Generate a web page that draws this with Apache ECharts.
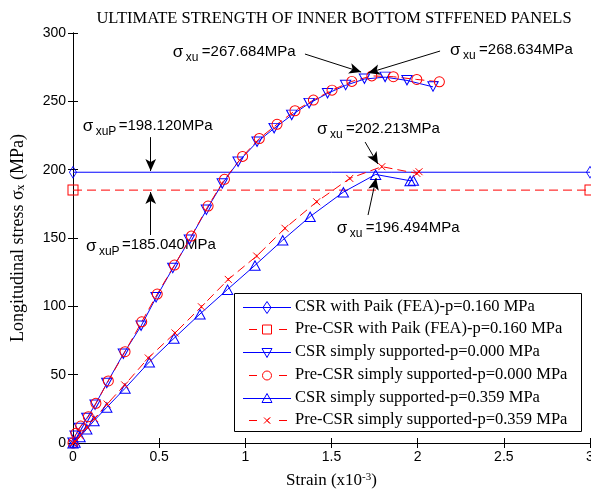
<!DOCTYPE html>
<html>
<head>
<meta charset="utf-8">
<script src="https://cdn.jsdelivr.net/npm/echarts@6/dist/echarts.min.js"></script>
<style>
    html, body { margin: 0; padding: 0; background: #fff; }
    #chart { width: 591px; height: 493px; }
</style>
</head>
<body>
<div id="chart"></div>
<script>
// series names (legend order)
var names = [
    'CSR with Paik (FEA)-p=0.160 MPa',
    'Pre-CSR with Paik (FEA)-p=0.160 MPa',
    'CSR simply supported-p=0.000 MPa',
    'Pre-CSR simply supported-p=0.000 MPa',
    'CSR simply supported-p=0.359 MPa',
    'Pre-CSR simply supported-p=0.359 MPa'
];

// Paik (FEA) ultimate strength, horizontal reference lines
var paikStrain = [0, 3];
var csrPaik = [198.12, 198.12];
var preCsrPaik = [185.04, 185.04];

// simply supported, p = 0.000 MPa
var csrP0Strain = [0, 0.012, 0.037, 0.080, 0.128, 0.196, 0.292, 0.395, 0.482, 0.579, 0.675, 0.774, 0.866, 0.958, 1.068, 1.167, 1.269, 1.370, 1.477, 1.582, 1.691, 1.811, 1.938, 2.089];
var csrP0Stress = [0, 5.1, 10.8, 18.1, 27.8, 43.7, 65.1, 85.6, 106.4, 127.8, 148.5, 170.4, 189.7, 205.6, 220.2, 230.2, 239.9, 248.5, 255.8, 261.7, 266.3, 267.7, 265.3, 260.6];
var preP0Strain = [0, 0.017, 0.045, 0.089, 0.133, 0.205, 0.302, 0.399, 0.489, 0.589, 0.687, 0.784, 0.879, 0.984, 1.081, 1.184, 1.288, 1.395, 1.503, 1.618, 1.734, 1.859, 1.995, 2.126];
var preP0Stress = [0, 7.1, 12.4, 19.2, 29.0, 45.4, 66.8, 88.7, 109.0, 130.2, 151.4, 173.4, 192.9, 209.7, 222.8, 233.2, 243.1, 250.9, 258.2, 264.6, 268.6, 268.0, 266.0, 264.3];

// simply supported, p = 0.359 MPa
var csrP359Strain = [0, 0.012, 0.041, 0.080, 0.122, 0.196, 0.302, 0.443, 0.586, 0.737, 0.897, 1.056, 1.217, 1.376, 1.569, 1.756, 1.956, 1.975];
var csrP359Stress = [0, 0.5, 4.6, 10.2, 16.3, 26.1, 40.0, 59.3, 76.6, 94.4, 112.4, 130.0, 148.5, 165.7, 183.6, 196.5, 191.9, 192.3];
var preP359Strain = [0, 0.012, 0.041, 0.082, 0.125, 0.198, 0.300, 0.437, 0.592, 0.745, 0.901, 1.066, 1.230, 1.414, 1.606, 1.792, 1.995, 2.008];
var preP359Stress = [0, 1.0, 5.5, 11.5, 18.0, 28.5, 42.5, 62.2, 80.5, 99.7, 119.7, 136.8, 157.1, 176.5, 193.6, 202.2, 197.3, 198.5];

// annotations: label anchor [strain, stress], arrow tail, arrow head
var notes = [
    { sub: 'xu', text: '=267.684MPa', at: [0.579, 285.3], from: [1.346, 284.6], to: [1.672, 271.4] },
    { sub: 'xu', text: '=268.634MPa', at: [2.188, 286.8], from: [2.130, 286.8], to: [1.712, 270.7] },
    { sub: 'xuP', text: '=198.120MPa', at: [0.056, 231.2], from: [0.451, 223.8], to: [0.451, 199.0] },
    { sub: 'xuP', text: '=185.040MPa', at: [0.075, 143.6], from: [0.451, 152.2], to: [0.451, 183.6] },
    { sub: 'xu', text: '=202.213MPa', at: [1.416, 228.9], from: [1.695, 220.2], to: [1.770, 204.1] },
    { sub: 'xu', text: '=196.494MPa', at: [1.530, 156.5], from: [1.712, 166.8], to: [1.759, 193.9] }
];

var BLUE = '#0000ff';
var RED = '#ff0000';
var serif = '"Liberation Serif", "Times New Roman", serif';
var sans = '"Liberation Sans", Arial, sans-serif';

// hollow marker outlines (outer shape + reversed inner shape)
var RING = {
    circle: 'path://M0,10A10,10,0,1,1,20,10A10,10,0,1,1,0,10ZM1.8,10A8.2,8.2,0,1,0,18.2,10A8.2,8.2,0,1,0,1.8,10Z',
    square: 'path://M0,0L20,0L20,20L0,20ZM1.8,1.8L1.8,18.2L18.2,18.2L18.2,1.8Z',
    diamond: 'path://M10,0L20,10L10,20L0,10ZM10,2.2L2.2,10L10,17.8L17.8,10Z',
    triUp: 'path://M10,0L20,18L0,18ZM10,3.6L2.8,16.4L17.2,16.4Z',
    triDown: 'path://M0,0L20,0L10,18ZM2.8,1.6L10,14.4L17.2,1.6Z'
};
var CROSS = 'path://M0,0L10,10M10,0L0,10M5,3L5,7';

function pairs(xs, ys) {
    return xs.map(function (x, i) { return [x, ys[i]]; });
}

function lineSeries(name, xs, ys, color, dashed, symbol, size, stroke) {
    return {
        name: name,
        type: 'line',
        data: pairs(xs, ys),
        symbol: symbol,
        symbolSize: size,
        showAllSymbol: true,
        clip: false,
        animation: false,
        lineStyle: { color: color, width: 1, type: dashed ? [9, 5] : 'solid' },
        itemStyle: { color: color, borderColor: color, borderWidth: stroke ? 1 : 0 }
    };
}

var chart = echarts.init(document.getElementById('chart'));

var axisCommon = {
    axisLine: { show: true, lineStyle: { color: '#000', width: 1 } },
    axisTick: { show: true, inside: true, length: 5, lineStyle: { color: '#000' } },
    splitLine: { show: false }
};

var series = [
    lineSeries(names[0], paikStrain, csrPaik, BLUE, false, RING.diamond, [8, 13]),
    lineSeries(names[1], paikStrain, preCsrPaik, RED, true, RING.square, 11),
    lineSeries(names[2], csrP0Strain, csrP0Stress, BLUE, false, RING.triDown, [12, 11]),
    lineSeries(names[3], preP0Strain, preP0Stress, RED, true, RING.circle, 11),
    lineSeries(names[4], csrP359Strain, csrP359Stress, BLUE, false, RING.triUp, [12, 11]),
    lineSeries(names[5], preP359Strain, preP359Stress, RED, true, CROSS, 7, true)
];

// arrows drawn in data coordinates
series[0].markLine = {
    silent: true,
    animation: false,
    symbol: ['none', 'arrow'],
    symbolSize: [8, 12],
    label: { show: false },
    lineStyle: { color: '#000', width: 1, type: 'solid' },
    data: notes.map(function (n) {
        return [{ coord: n.from }, { coord: n.to }];
    })
};

chart.setOption({
    animation: false,
    title: {
        text: 'ULTIMATE STRENGTH OF INNER BOTTOM STFFENED PANELS',
        left: 329,
        top: 5,
        textAlign: 'center',
        textStyle: { fontFamily: serif, fontSize: 16.5, fontWeight: 'normal', color: '#000' }
    },
    grid: { left: 73, right: 1, top: 33, bottom: 50, containLabel: false, outerBoundsMode: 'none' },
    xAxis: [
        Object.assign({
            type: 'value', min: 0, max: 3, interval: 0.5,
            name: 'Strain (x10{sup|-3})',
            nameLocation: 'middle',
            nameGap: 29,
            nameTextStyle: {
                fontFamily: serif, fontSize: 17, color: '#000',
                rich: { sup: { fontFamily: serif, fontSize: 11, verticalAlign: 'top', color: '#000' } }
            },
            axisLabel: { fontFamily: sans, fontSize: 14, color: '#000', margin: 7 }
        }, axisCommon),
        Object.assign({
            type: 'value', min: 0, max: 3, interval: 0.5, position: 'top',
            axisLabel: { show: false }
        }, axisCommon)
    ],
    yAxis: [
        Object.assign({
            type: 'value', min: 0, max: 300, interval: 50,
            name: 'Longitudinal stress σ{sub|x} (MPa)',
            nameLocation: 'middle',
            nameGap: 46,
            nameTextStyle: {
                fontFamily: serif, fontSize: 18, color: '#000',
                rich: { sub: { fontFamily: serif, fontSize: 12, verticalAlign: 'bottom', color: '#000' } }
            },
            axisLabel: { fontFamily: sans, fontSize: 14, color: '#000', margin: 7 }
        }, axisCommon),
        Object.assign({
            type: 'value', min: 0, max: 300, interval: 50, position: 'right',
            axisLabel: { show: false }
        }, axisCommon)
    ],
    series: series
});

var graphics = [];

// annotation labels, placed from data coordinates
notes.forEach(function (n) {
    var p = chart.convertToPixel({ gridIndex: 0 }, n.at);
    var valueOffset = n.sub === 'xuP' ? 36 : 29;
    graphics.push({
        type: 'text', left: p[0], top: p[1] - 9, silent: true,
        style: { text: 'σ', font: '17px ' + sans, fill: '#000' }
    });
    graphics.push({
        type: 'text', left: p[0] + 13, top: p[1] - 1, silent: true,
        style: { text: n.sub, font: '12px ' + sans, fill: '#000' }
    });
    graphics.push({
        type: 'text', left: p[0] + valueOffset, top: p[1] - 9, silent: true,
        style: { text: n.text, font: '15px ' + sans, fill: '#000' }
    });
});

// legend box drawn by hand so line and marker styles match the plot
var legendMarks = ['diamond', 'square', 'triDown', 'circle', 'triUp', 'cross'];
var legendColors = [BLUE, RED, BLUE, RED, BLUE, RED];
graphics.push({
    type: 'rect', silent: true, z: 10,
    shape: { x: 234.5, y: 293.5, width: 347, height: 138 },
    style: { fill: '#fff', stroke: '#000', lineWidth: 1 }
});
names.forEach(function (name, i) {
    var cy = Math.round(306.7 + 22.7 * i) + 0.5;
    var cx = 267;
    var c = legendColors[i];
    var dashed = i % 2 === 1;
    var mk = legendMarks[i];
    var st = { fill: 'none', stroke: c, lineWidth: 1 };
    graphics.push({
        type: 'line', silent: true, z: 11,
        shape: { x1: dashed ? 249 : 243, y1: cy, x2: dashed ? 287 : 291, y2: cy },
        style: { stroke: c, lineWidth: 1, lineDash: dashed ? [8, 22] : null }
    });
    var el;
    if (mk === 'diamond') {
        el = { type: 'polygon', shape: { points: [[cx, cy - 6], [cx + 4, cy], [cx, cy + 6], [cx - 4, cy]] } };
    } else if (mk === 'square') {
        el = { type: 'rect', shape: { x: cx - 4.5, y: cy - 4.5, width: 9, height: 9 } };
    } else if (mk === 'triDown') {
        el = { type: 'polygon', shape: { points: [[cx - 5, cy - 4], [cx + 5, cy - 4], [cx, cy + 5]] } };
    } else if (mk === 'circle') {
        el = { type: 'circle', shape: { cx: cx, cy: cy, r: 4.5 } };
    } else if (mk === 'triUp') {
        el = { type: 'polygon', shape: { points: [[cx, cy - 5], [cx + 5, cy + 4], [cx - 5, cy + 4]] } };
    } else {
        el = { type: 'polyline', shape: { points: [[cx - 3, cy - 3], [cx + 3, cy + 3], [cx, cy], [cx + 3, cy - 3], [cx - 3, cy + 3]] } };
    }
    el.silent = true;
    el.z = 12;
    el.style = st;
    graphics.push(el);
    graphics.push({
        type: 'text', left: 295, top: cy - 9, silent: true, z: 12,
        style: { text: name, font: '16.5px ' + serif, fill: '#000' }
    });
});

chart.setOption({ graphic: graphics });
</script>
</body>
</html>
